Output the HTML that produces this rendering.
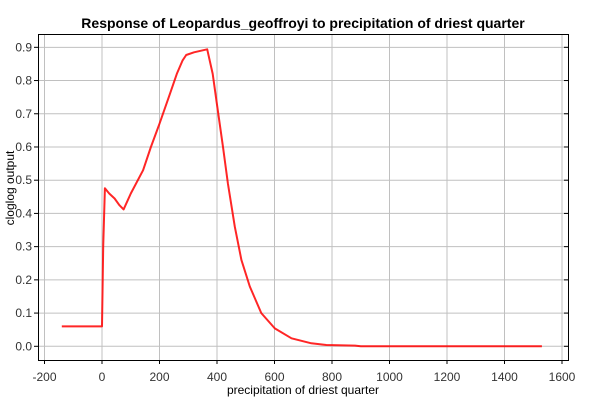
<!DOCTYPE html>
<html><head><meta charset="utf-8"><style>
body{margin:0;background:#fff;font-family:"Liberation Sans",sans-serif}
svg{display:block}
</style></head><body>
<svg width="600" height="400">
<rect width="600" height="400" fill="#fff"/>
<text x="303" y="28" text-anchor="middle" font-weight="bold" font-size="14">Response of Leopardus_geoffroyi to precipitation of driest quarter</text>
<g id="grid"></g>
<g id="axes"></g>
<path id="curve" fill="none" stroke="#f00" stroke-width="2" stroke-opacity="0.85" stroke-linejoin="round"/>
<rect x="38.5" y="34.5" width="530" height="326" fill="none" stroke="#000"/>
<text x="303" y="394" text-anchor="middle" font-size="12">precipitation of driest quarter</text>
<text transform="translate(14,188) rotate(-90)" text-anchor="middle" font-size="12">cloglog output</text>
</svg>
<script>
const xTicks=[-200,0,200,400,600,800,1000,1200,1400,1600];
const yTicks=[0,0.1,0.2,0.3,0.4,0.5,0.6,0.7,0.8,0.9];
const xVals=[-140,0,4,10,25,44,60,75,100,143,170,200,235,260,280,293,320,366,385,401,421,438,462,485,514,554,601,659,728,780,880,900,1530];
const yVals=[0.06,0.06,0.3,0.476,0.46,0.445,0.425,0.412,0.46,0.53,0.6,0.67,0.757,0.82,0.86,0.877,0.885,0.894,0.82,0.721,0.6,0.49,0.36,0.26,0.18,0.1,0.054,0.024,0.009,0.004,0.002,0,0];
const X=v=>44.5+(v+200)*0.2875;
const Y=v=>346.3-v*332.2;
const ns="http://www.w3.org/2000/svg";
const grid=document.getElementById('grid'),axes=document.getElementById('axes');
function mk(tag,attrs,parent,txt){const e=document.createElementNS(ns,tag);for(const k in attrs)e.setAttribute(k,attrs[k]);if(txt!==undefined)e.textContent=txt;parent.appendChild(e);return e;}
xTicks.forEach(t=>{const x=X(t);
 const g=mk('line',{x1:x,x2:x,y1:35,y2:360,stroke:'#c0c0c0'},grid);
 
 
 const tk=mk('line',{x1:x,x2:x,y1:360,y2:364,stroke:'#000'},axes);
 
 
 const l=mk('text',{x:x,y:381,'text-anchor':'middle','font-size':'12',fill:'#333'},axes,String(t));
 
 
});
yTicks.forEach(t=>{const y=Y(t);
 const g=mk('line',{x1:39,x2:568,y1:y,y2:y,stroke:'#c0c0c0'},grid);
 
 
 const tk=mk('line',{x1:34,x2:38,y1:y,y2:y,stroke:'#000'},axes);
 
 
 const tk2=mk('line',{x1:564,x2:568,y1:y,y2:y,stroke:'#000'},axes);
 
 
 const l=mk('text',{x:32,y:y+4,'text-anchor':'end','font-size':'12',fill:'#333'},axes,t.toFixed(1));
 
 
});
document.getElementById('curve').setAttribute('d',xVals.map((v,i)=>(i?'L':'M')+X(v).toFixed(1)+','+Y(yVals[i]).toFixed(1)).join(''));
</script>
</body></html>
